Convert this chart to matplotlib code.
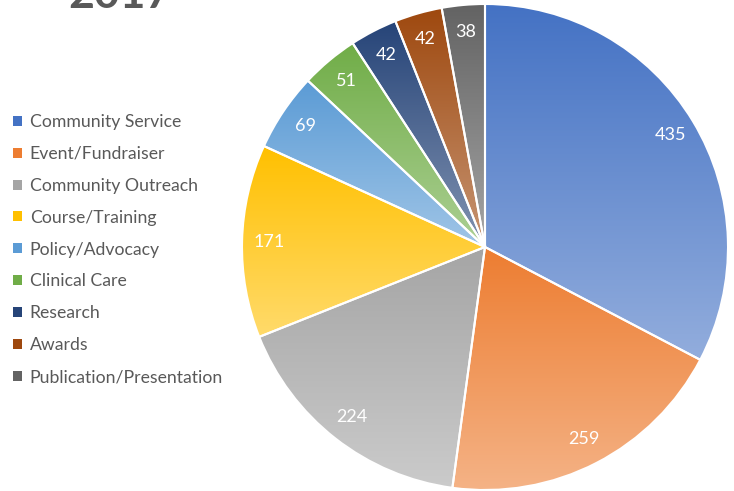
import numpy as np
import matplotlib
matplotlib.use("Agg")
import matplotlib.pyplot as plt
from matplotlib.patches import Patch
from matplotlib.colors import to_rgb

categories = ["Community Service", "Event/Fundraiser", "Community Outreach",
              "Course/Training", "Policy/Advocacy", "Clinical Care",
              "Research", "Awards", "Publication/Presentation"]
counts = [435, 259, 224, 171, 69, 51, 42, 42, 38]
colors = ["#4472C4", "#ED7D31", "#A5A5A5", "#FFC000", "#5B9BD5",
          "#70AD47", "#264478", "#9E480E", "#636363"]
title = "2017"

plt.rcParams['font.family'] = ['Lato', 'DejaVu Sans']

fig = plt.figure(figsize=(7.34, 4.91), dpi=100)
ax = fig.add_axes([242 / 734, 1 / 491, 486 / 734, 486 / 491])

total = sum(counts)
wedges, texts, autotexts = ax.pie(
    counts, colors=colors, startangle=90, counterclock=False, radius=1,
    autopct=lambda p: f"{round(p * total / 100)}", pctdistance=0.89,
    wedgeprops=dict(edgecolor="white", linewidth=1.5),
    textprops=dict(color="white", fontsize=13))

# vertical gradient in each wedge: base colour at top, lighter at bottom
for w, c in zip(wedges, colors):
    verts = w.get_path().vertices
    x0, x1 = verts[:, 0].min(), verts[:, 0].max()
    y0, y1 = verts[:, 1].min(), verts[:, 1].max()
    base = np.array(to_rgb(c))
    light = base + (1 - base) * 0.42
    t = np.linspace(0, 1, 256)[:, None]
    grad = base[None, :] * (1 - t) + light[None, :] * t
    img = grad[:, None, :]
    im = ax.imshow(img, extent=(x0, x1, y0, y1), origin="upper",
                   aspect="auto", zorder=1, interpolation="bilinear")
    im.set_clip_path(w)
    w.set_facecolor("none")
    w.set_zorder(2)
for t in autotexts:
    t.set_zorder(3)

ax.set_xlim(-1.0, 1.0)
ax.set_ylim(-1.0, 1.0)
ax.axis("off")

handles = [Patch(facecolor=c, edgecolor="none") for c in colors]
leg = fig.legend(handles, categories, loc="upper left",
                 bbox_to_anchor=(6 / 734, 1 - 107 / 491), frameon=False,
                 fontsize=12.7, handlelength=0.5, handleheight=0.5,
                 handletextpad=0.45, labelspacing=0.9, borderaxespad=0)
for txt in leg.get_texts():
    txt.set_color("#595959")

fig.text(68 / 734, 1 - 8 / 491, title, fontsize=32, fontweight="bold",
         color="#595959", va="baseline", ha="left")

fig.savefig("out.png", dpi=100)
